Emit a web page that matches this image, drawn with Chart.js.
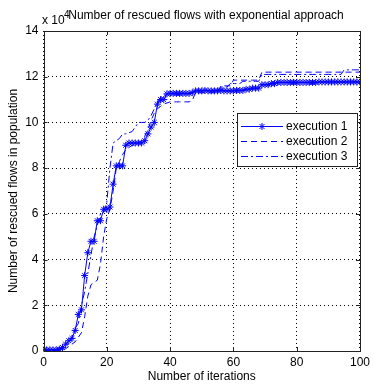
<!DOCTYPE html>
<html>
<head>
<meta charset="utf-8">
<script src="https://cdn.jsdelivr.net/npm/chart.js@4.4.1/dist/chart.umd.min.js"></script>
<style>
  body { margin: 0; background: #fff; }
  canvas { display: block; }
</style>
</head>
<body>
<canvas id="flowsChart" width="374" height="385"></canvas>
<script>
const iterations = [
  0, 1, 2, 3, 4, 5, 6, 7, 8, 9, 10, 11, 12, 13, 14, 15, 16, 17, 18, 19,
  20, 21, 22, 23, 24, 25, 26, 27, 28, 29, 30, 31, 32, 33, 34, 35, 36, 37, 38, 39,
  40, 41, 42, 43, 44, 45, 46, 47, 48, 49, 50, 51, 52, 53, 54, 55, 56, 57, 58, 59,
  60, 61, 62, 63, 64, 65, 66, 67, 68, 69, 70, 71, 72, 73, 74, 75, 76, 77, 78, 79,
  80, 81, 82, 83, 84, 85, 86, 87, 88, 89, 90, 91, 92, 93, 94, 95, 96, 97, 98, 99, 100
]

// values in units of 10^4
const execution1 = [
  0.05, 0.05, 0.05, 0.05, 0.05, 0.08, 0.15, 0.3, 0.45, 0.55, 0.9, 1.6, 1.8, 3.3, 4.3, 4.8, 4.8, 5.7, 5.7, 6.2,
  6.2, 6.3, 7.3, 8.1, 8.1, 8.1, 9.0, 9.1, 9.1, 9.1, 9.1, 9.1, 9.2, 9.5, 9.8, 10.0, 10.8, 11.0, 11.0, 11.25,
  11.27, 11.27, 11.27, 11.27, 11.27, 11.27, 11.27, 11.3, 11.38, 11.38, 11.38, 11.4, 11.38, 11.38, 11.38, 11.38, 11.4, 11.38, 11.38, 11.38,
  11.38, 11.4, 11.4, 11.4, 11.45, 11.45, 11.5, 11.5, 11.5, 11.65, 11.65, 11.65, 11.7, 11.7, 11.75, 11.75, 11.75, 11.75, 11.75, 11.75,
  11.75, 11.75, 11.75, 11.75, 11.75, 11.75, 11.75, 11.77, 11.77, 11.77, 11.77, 11.77, 11.77, 11.77, 11.77, 11.77, 11.77, 11.77, 11.77, 11.77, 11.77
]
const execution2 = [
  0.02, 0.02, 0.02, 0.02, 0.02, 0.03, 0.05, 0.1, 0.2, 0.3, 0.4, 0.6, 0.8, 1.5, 2.4, 2.9, 3.0, 3.1, 3.8, 5.0,
  5.8, 6.2, 7.0, 8.0, 8.3, 8.6, 8.8, 8.9, 9.0, 9.0, 9.1, 9.2, 9.4, 9.7, 10.1, 10.4, 10.6, 10.7, 10.8, 10.85,
  10.9, 10.9, 10.9, 10.9, 10.9, 10.9, 10.9, 10.95, 11.3, 11.3, 11.3, 11.3, 11.3, 11.3, 11.3, 11.3, 11.6, 11.6, 11.6, 11.6,
  11.85, 11.85, 11.85, 11.85, 11.85, 11.85, 11.85, 11.85, 11.85, 12.2, 12.2, 12.2, 12.2, 12.2, 12.2, 12.2, 12.2, 12.2, 12.2, 12.2,
  12.2, 12.2, 12.2, 12.2, 12.2, 12.2, 12.2, 12.2, 12.2, 12.2, 12.2, 12.2, 12.2, 12.2, 12.2, 12.2, 12.2, 12.2, 12.2, 12.2, 12.2
]
const execution3 = [
  0.03, 0.03, 0.03, 0.03, 0.03, 0.05, 0.1, 0.25, 0.35, 0.6, 1.0, 1.2, 2.0, 2.6, 3.4, 4.2, 5.0, 5.5, 6.0, 6.1,
  6.5, 8.0, 9.1, 9.2, 9.3, 9.5, 9.5, 9.55, 9.6, 9.8, 10.0, 10.0, 10.0, 10.1, 10.3, 10.6, 10.9, 11.1, 11.2, 11.2,
  11.25, 11.25, 11.25, 11.25, 11.25, 11.25, 11.25, 11.25, 11.4, 11.4, 11.4, 11.4, 11.4, 11.4, 11.4, 11.4, 11.55, 11.55, 11.55, 11.7,
  11.7, 11.7, 11.7, 11.8, 11.8, 11.8, 11.8, 11.8, 11.8, 12.1, 12.1, 12.1, 12.1, 12.1, 12.1, 12.1, 12.1, 12.1, 12.1, 12.1,
  12.1, 12.1, 12.1, 12.1, 12.1, 12.1, 12.1, 12.1, 12.1, 12.1, 12.1, 12.1, 12.1, 12.1, 12.1, 12.3, 12.3, 12.3, 12.3, 12.3, 12.3
]
const seriesNames = ['execution 1', 'execution 2', 'execution 3']
const xTicks = [0, 20, 40, 60, 80, 100]
const yTicks = [0, 2, 4, 6, 8, 10, 12, 14]

const FONT = '"Liberation Sans", Arial, sans-serif'
const BLUE = '#0000ff'

const toPoints = (vals) => vals.map((v, i) => ({ x: iterations[i], y: v }))

// MATLAB-ish frame: box, inward ticks, title, exponent and legend
const matlabFrame = {
  id: 'matlabFrame',
  afterDraw(chart) {
    const { ctx, chartArea: a, scales } = chart
    ctx.save()
    ctx.strokeStyle = '#222'
    ctx.lineWidth = 1
    ctx.beginPath()
    xTicks.forEach((t) => {
      const px = Math.round(scales.x.getPixelForValue(t)) + 0.5
      ctx.moveTo(px, a.bottom); ctx.lineTo(px, a.bottom - 4)
      ctx.moveTo(px, a.top); ctx.lineTo(px, a.top + 4)
    })
    yTicks.forEach((t) => {
      const py = Math.round(scales.y.getPixelForValue(t)) + 0.5
      ctx.moveTo(a.left, py); ctx.lineTo(a.left + 4, py)
      ctx.moveTo(a.right, py); ctx.lineTo(a.right - 4, py)
    })
    ctx.stroke()
    ctx.strokeRect(Math.round(a.left) + 0.5, Math.round(a.top) + 0.5,
      Math.round(a.right - a.left), Math.round(a.bottom - a.top))

    ctx.fillStyle = '#000'
    ctx.font = '12px ' + FONT
    ctx.textBaseline = 'alphabetic'
    ctx.textAlign = 'left'
    ctx.fillText('x 10', 42, 24)
    ctx.font = '10px ' + FONT
    ctx.fillText('4', 64, 18)
    ctx.font = '12px ' + FONT
    ctx.textAlign = 'center'
    ctx.fillText('Number of rescued flows with exponential approach', 206, 19)

    // legend
    const lx = 237.5, ly = 113.5, lw = 120, lh = 53
    ctx.fillStyle = '#fff'
    ctx.fillRect(lx, ly, lw, lh)
    ctx.strokeStyle = '#222'
    ctx.strokeRect(lx, ly, lw, lh)
    chart.data.datasets.forEach((ds, i) => {
      const y = 126.5 + i * 15
      ctx.strokeStyle = ds.borderColor
      ctx.fillStyle = ds.borderColor
      ctx.lineWidth = 1
      ctx.setLineDash(ds.borderDash || [])
      ctx.beginPath()
      ctx.moveTo(241, y); ctx.lineTo(283, y)
      ctx.stroke()
      ctx.setLineDash([])
      if (ds.pointStyle === 'star') {
        Chart.helpers.drawPoint(ctx, { pointStyle: 'star', radius: 3.5, borderWidth: 1 }, 262, y)
      }
      ctx.fillStyle = '#000'
      ctx.textAlign = 'left'
      ctx.textBaseline = 'middle'
      ctx.font = '12px ' + FONT
      ctx.fillText(ds.label, 286, y)
    })
    ctx.restore()
  }
}

new Chart(document.getElementById('flowsChart'), {
  type: 'line',
  data: {
    datasets: [
      {
        label: seriesNames[0],
        data: toPoints(execution1),
        borderColor: BLUE,
        backgroundColor: BLUE,
        borderWidth: 1,
        pointStyle: 'star',
        pointRadius: 3.5,
        pointBorderWidth: 1,
        pointBorderColor: BLUE
      },
      {
        label: seriesNames[1],
        data: toPoints(execution2),
        borderColor: BLUE,
        borderWidth: 1,
        borderDash: [6, 4],
        pointRadius: 0
      },
      {
        label: seriesNames[2],
        data: toPoints(execution3),
        borderColor: BLUE,
        borderWidth: 1,
        borderDash: [7, 3, 2, 3],
        pointRadius: 0
      }
    ]
  },
  options: {
    responsive: false,
    animation: false,
    devicePixelRatio: 1,
    layout: { padding: { top: 31, right: 5, left: 0, bottom: 0 } },
    plugins: {
      legend: { display: false },
      tooltip: { enabled: false }
    },
    scales: {
      x: {
        type: 'linear',
        min: 0,
        max: 100,
        afterBuildTicks: (s) => { s.ticks = xTicks.map((v) => ({ value: v })) },
        afterFit: (s) => { s.height = 34 },
        ticks: { color: '#000', font: { family: FONT, size: 12 }, padding: 4, maxRotation: 0 },
        grid: { color: '#000', lineWidth: 1, drawTicks: false },
        border: { display: false, dash: [1, 3] },
        title: { display: true, text: 'Number of iterations', color: '#000',
          font: { family: FONT, size: 12 }, padding: { top: 0, bottom: 1 } }
      },
      y: {
        type: 'linear',
        min: 0,
        max: 14,
        afterBuildTicks: (s) => { s.ticks = yTicks.map((v) => ({ value: v })) },
        afterFit: (s) => { s.width = 43.5 },
        ticks: { color: '#000', font: { family: FONT, size: 12 }, padding: 5 },
        grid: { color: '#000', lineWidth: 1, drawTicks: false },
        border: { display: false, dash: [1, 3] },
        title: { display: true, text: 'Number of rescued flows in population', color: '#000',
          font: { family: FONT, size: 12 }, padding: { top: 6, bottom: 0 } }
      }
    }
  },
  plugins: [matlabFrame]
})
</script>
</body>
</html>
